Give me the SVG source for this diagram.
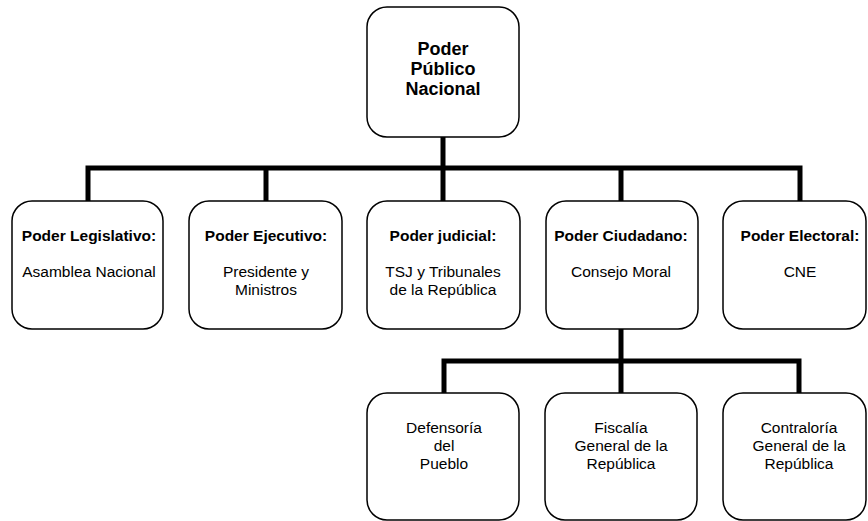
<svg xmlns="http://www.w3.org/2000/svg" width="868" height="521" viewBox="0 0 868 521">
<style>
.box{fill:#fff;stroke:#000;stroke-width:1.5}
.con{fill:none;stroke:#000;stroke-width:5;stroke-linecap:butt;stroke-linejoin:miter}
text{font-family:"Liberation Sans",Arial,sans-serif;fill:#000;text-anchor:middle}
.t{font-size:15.5px;font-weight:bold}
.b{font-size:15.5px}
.top{font-size:18px;font-weight:bold}
</style>
<rect width="868" height="521" fill="#fff"/>
<g id="connectors">
<path class="con" d="M443 137V170"/>
<path class="con" d="M88 201V168H800V201"/>
<path class="con" d="M266 168V201"/>
<path class="con" d="M443 168V201"/>
<path class="con" d="M621 168V201"/>
<path class="con" d="M621 329V361"/>
<path class="con" d="M444 393V361H799V393"/>
<path class="con" d="M621 361V393"/>
</g>
<g id="n-ppn">
<rect class="box" x="367" y="7" width="152" height="130" rx="20"/>
<text class="top" x="443" y="55">Poder</text>
<text class="top" x="443" y="75">Público</text>
<text class="top" x="443" y="95">Nacional</text>
</g>
<g id="n-leg">
<rect class="box" x="12" y="201" width="151" height="128" rx="20"/>
<text class="t" x="89" y="241">Poder Legislativo:</text>
<text class="b" x="89" y="277">Asamblea Nacional</text>
</g>
<g id="n-eje">
<rect class="box" x="189" y="201" width="153" height="128" rx="20"/>
<text class="t" x="266" y="241">Poder Ejecutivo:</text>
<text class="b" x="266" y="277">Presidente y</text>
<text class="b" x="266" y="295">Ministros</text>
</g>
<g id="n-jud">
<rect class="box" x="367" y="201" width="153" height="128" rx="20"/>
<text class="t" x="443" y="241">Poder judicial:</text>
<text class="b" x="443" y="277">TSJ y Tribunales</text>
<text class="b" x="443" y="295">de la República</text>
</g>
<g id="n-ciu">
<rect class="box" x="546" y="201" width="152" height="128" rx="20"/>
<text class="t" x="621" y="241">Poder Ciudadano:</text>
<text class="b" x="621" y="277">Consejo Moral</text>
</g>
<g id="n-ele">
<rect class="box" x="723" y="201" width="143" height="128" rx="20"/>
<text class="t" x="800" y="241">Poder Electoral:</text>
<text class="b" x="800" y="277">CNE</text>
</g>
<g id="n-def">
<rect class="box" x="367" y="393" width="152" height="127" rx="20"/>
<text class="b" x="444" y="433">Defensoría</text>
<text class="b" x="444" y="451">del</text>
<text class="b" x="444" y="469">Pueblo</text>
</g>
<g id="n-fis">
<rect class="box" x="545" y="393" width="152" height="127" rx="20"/>
<text class="b" x="621" y="433">Fiscalía</text>
<text class="b" x="621" y="451">General de la</text>
<text class="b" x="621" y="469">República</text>
</g>
<g id="n-con">
<rect class="box" x="723" y="393" width="143" height="127" rx="20"/>
<text class="b" x="799" y="433">Contraloría</text>
<text class="b" x="799" y="451">General de la</text>
<text class="b" x="799" y="469">República</text>
</g>
</svg>
